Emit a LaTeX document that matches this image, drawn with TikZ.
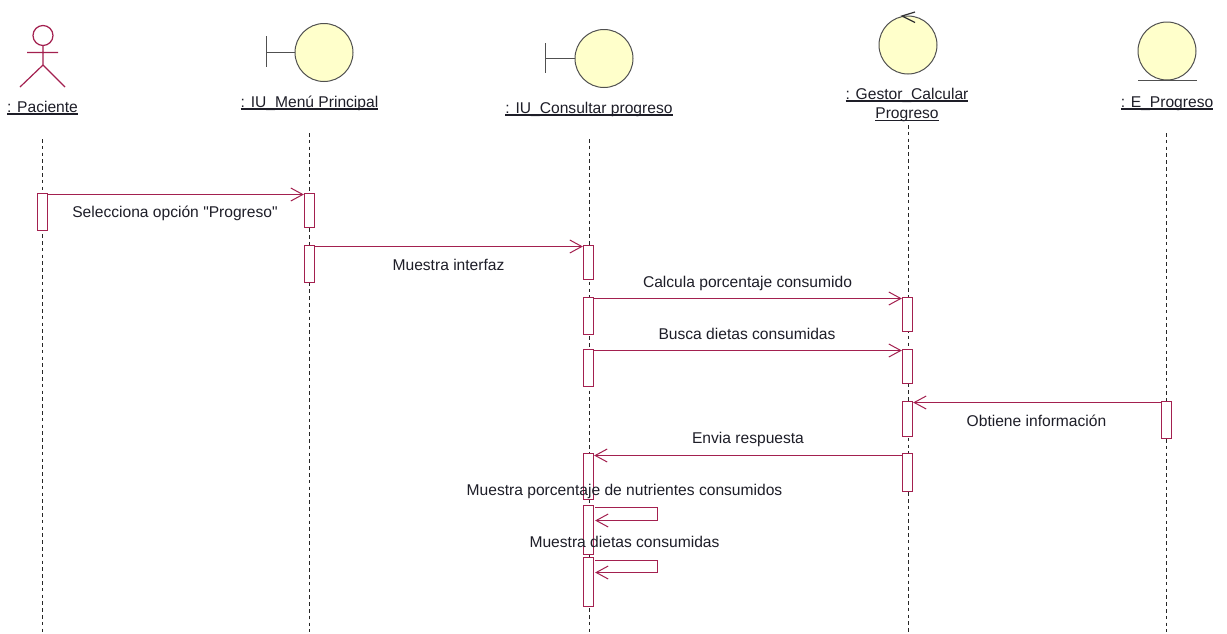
\documentclass[tikz,border=0pt]{standalone}
\usepackage{fontspec}
\setmainfont{Liberation Sans}
\newfontfamily\plainq{Liberation Sans}
\usetikzlibrary{arrows.meta}
\definecolor{umlred}{HTML}{A3204F}
\definecolor{umlfill}{HTML}{FFFFCB}
\definecolor{umlgrey}{HTML}{505050}
\definecolor{umltext}{HTML}{1E1E28}
\newcommand\ulab[1]{\setbox0=\hbox{#1}\hbox{\rlap{\copy0}\rule[-2.6pt]{\wd0}{1.2pt}}}
\tikzset{
  x=1pt,y=-1pt,
  lifeline/.style={draw=black!85,line width=1.2pt,dash pattern=on 3.6pt off 3.2pt},
  actbox/.style={draw=umlred,fill=white,line width=1.3pt,minimum width=10pt,inner sep=0pt,anchor=north},
  msg/.style={draw=umlred,line width=1.3pt,-{Straight Barb[length=12pt,width=13pt,line width=1pt]}},
  objlabel/.style={font=\fontsize{15.6}{19}\selectfont,text=umltext,anchor=base,inner sep=0pt,align=center},
  msglabel/.style={font=\fontsize{15.6}{18}\selectfont,text=umltext,anchor=base,inner sep=0pt},
  robust/.style={circle,draw=umlgrey,fill=umlfill,line width=1pt,minimum size=58pt,inner sep=0pt},
  glyph/.style={draw=umlgrey,line width=1.2pt},
  stick/.style={draw=umlred,line width=1.2pt}
}
\begin{document}
\begin{tikzpicture}
\path[use as bounding box,fill=white] (0,0) rectangle (1227,633);

% lifeline ends
\coordinate (lp0) at (42.5,139); \coordinate (lp1) at (42.5,632);
\coordinate (lm0) at (309.5,133); \coordinate (lm1) at (309.5,632);
\coordinate (lc0) at (589.5,139); \coordinate (lc1) at (589.5,632);
\coordinate (lg0) at (908.5,125); \coordinate (lg1) at (908.5,632);
\coordinate (le0) at (1166.5,133); \coordinate (le1) at (1166.5,632);
\foreach \k in {p,m,c,g,e} \draw[lifeline] (l\k0) -- (l\k1);

% actor
\node[circle,draw=umlred,line width=1.2pt,minimum size=20pt,inner sep=0pt] (head) at (43,35.5) {};
\coordinate (armL) at (27,52.5); \coordinate (armR) at (58,52.5);
\coordinate (hip) at (43,65); \coordinate (legL) at (20,87); \coordinate (legR) at (65,87);
\draw[stick] (head.south) -- (hip) (armL) -- (armR) (legL) -- (hip) -- (legR);
\node[objlabel] (lblP) at (42.5,112) {\ulab{: Paciente}};

% boundary: menu
\node[robust] (menu) at (324,52.5) {};
\coordinate (menuT) at (266.5,36); \coordinate (menuB) at (266.5,67); \coordinate (menuM) at (266.5,52.5);
\draw[glyph] (menuT) -- (menuB) (menuM) -- (menu.west);
\node[objlabel] (lblM) at (309.5,107) {\ulab{: IU\_Menú Principal}};

% boundary: consultar
\node[robust] (cons) at (604,58.5) {};
\coordinate (consT) at (545.5,43); \coordinate (consB) at (545.5,73); \coordinate (consM) at (545.5,58.5);
\draw[glyph] (consT) -- (consB) (consM) -- (cons.west);
\node[objlabel] (lblC) at (589,113) {\ulab{: IU\_Consultar progreso}};

% control
\node[robust] (gest) at (908,45) {};
\coordinate (gestTip) at (902,16); \coordinate (gestA) at (915,12); \coordinate (gestB) at (915,22.5);
\draw[glyph,draw=black!80] (gestA) -- (gestTip) -- (gestB);
\node[objlabel,anchor=base] (lblG1) at (907,99) {\ulab{: Gestor\_Calcular}};
\node[objlabel,anchor=base] (lblG2) at (907,118.5) {\ulab{Progreso}};

% entity
\node[robust] (ent) at (1167,51) {};
\coordinate (entL) at (1138,80.5); \coordinate (entR) at (1197,80.5);
\draw[glyph] (entL) -- (entR);
\node[objlabel] (lblE) at (1167,107) {\ulab{: E\_Progreso}};

% activations
\node[actbox,minimum height=37pt] (ap) at (42.5,192.5) {};
\node[actbox,minimum height=34pt] (am1) at (309.5,192.5) {};
\node[actbox,minimum height=37pt] (am2) at (309.5,244.5) {};
\node[actbox,minimum height=34pt] (ac1) at (588.5,244.5) {};
\node[actbox,minimum height=37pt] (ac2) at (588.5,296.5) {};
\node[actbox,minimum height=37pt] (ac3) at (588.5,348.5) {};
\node[actbox,minimum height=46pt] (ac4) at (588.5,452.5) {};
\node[actbox,minimum height=49pt] (ac5) at (588.5,504.5) {};
\node[actbox,minimum height=49pt] (ac6) at (588.5,556.5) {};
\node[actbox,minimum height=34pt] (ag1) at (907.5,296.5) {};
\node[actbox,minimum height=34pt] (ag2) at (907.5,348.5) {};
\node[actbox,minimum height=35pt] (ag3) at (907.5,400.5) {};
\node[actbox,minimum height=38pt] (ag4) at (907.5,452.5) {};
\node[actbox,minimum height=37pt] (ae) at (1166.5,400.5) {};

% messages
\draw[msg] ([yshift=-2pt]ap.north east) -- ([yshift=-2pt]am1.north west);
\draw[msg] ([yshift=-2pt]am2.north east) -- ([yshift=-2pt]ac1.north west);
\draw[msg] ([yshift=-2pt]ac2.north east) -- ([yshift=-2pt]ag1.north west);
\draw[msg] ([yshift=-2pt]ac3.north east) -- ([yshift=-2pt]ag2.north west);
\draw[msg] ([yshift=-2pt]ae.north west) -- ([yshift=-2pt]ag3.north east);
\draw[msg] ([yshift=-3pt]ag4.north west) -- ([yshift=-3pt]ac4.north east);
\coordinate (s1) at (657.5,507.5); \coordinate (s2) at (657.5,520.5);
\coordinate (s3) at (657.5,560.5); \coordinate (s4) at (657.5,572.5);
\draw[msg] ([xshift=1pt]ac5.east |- s1) -- (s1) -- (s2) -- ([xshift=1pt]ac5.east |- s2);
\draw[msg] ([xshift=1pt]ac6.east |- s3) -- (s3) -- (s4) -- ([xshift=1pt]ac6.east |- s4);

% message labels
\node[msglabel] (t1) at (175,217) {Selecciona opción {\plainq"}Progreso{\plainq"}};
\node[msglabel] (t2) at (448.5,270) {Muestra interfaz};
\node[msglabel] (t3) at (747.5,287) {Calcula porcentaje consumido};
\node[msglabel] (t4) at (747,339) {Busca dietas consumidas};
\node[msglabel] (t5) at (1036.5,426) {Obtiene información};
\node[msglabel] (t6) at (748,443) {Envia respuesta};
\node[msglabel] (t7) at (624.5,495) {Muestra porcentaje de nutrientes consumidos};
\node[msglabel] (t8) at (624.5,547) {Muestra dietas consumidas};
\end{tikzpicture}
\end{document}
